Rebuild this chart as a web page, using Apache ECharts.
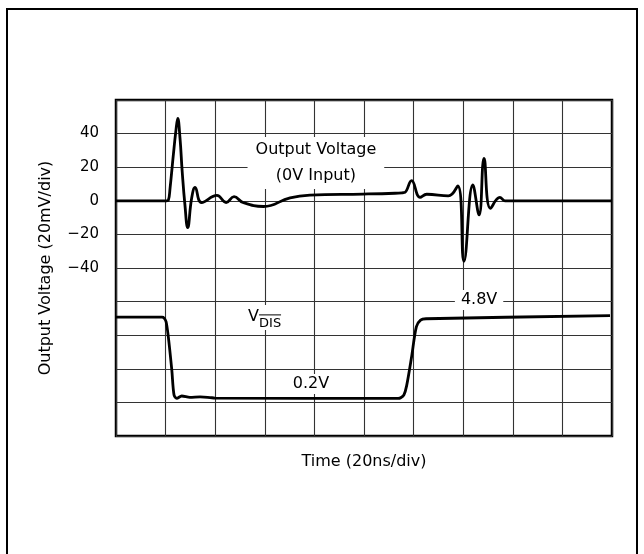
<!DOCTYPE html>
<html><head><meta charset="utf-8">
<script src="https://cdn.jsdelivr.net/npm/echarts@6/dist/echarts.min.js"></script>
<style>html,body{margin:0;padding:0;background:#fff}#c{width:644px;height:554px}</style>
</head><body><div id="c"></div>
<script>
// ---- data (time in ns, values in axis units of 20mV/div) ----
const yTickLabels = [40, 20, 0, -20, -40];
const outTime = [0, 20.4, 21.1, 21.8, 23.1, 24.1, 24.9, 25.8, 26.7, 27.8, 28.9, 30.5, 31.9, 34.5, 40.7, 44.4, 47.6, 51.2, 59.5, 70.2, 78.2, 99.6, 112.5, 115.7, 116.5, 119.2, 122.6, 125.3, 134, 137.8, 140.3, 143.9, 146.4, 148.4, 151.0, 154.8, 156.8, 158, 200];
const outVolt = [0, 0, 0.3, 7.6, 27, 41, 49, 37.4, 17.3, -2.5, -16, 1.5, 8, -1, 3.2, -1, 2.5, -1, -3.4, 1.8, 3.4, 4, 4.5, 4.8, 5, 12, 2.1, 3.9, 2.9, 8.8, -36, 9.4, -8.4, 25.3, -4.5, 2, 0, 0, 0];
const vdisTime = [0, 18.6, 19.4, 20.2, 21.1, 22.5, 23.4, 24.5, 26.5, 29.8, 33.9, 37.9, 39.9, 113.8, 114.8, 116.1, 117.2, 119.2, 121.1, 122.8, 125, 199.2];
const vdisVolt = [-69.3, -69.3, -69.8, -72, -81, -100.7, -115.6, -117.6, -116.2, -117, -116.7, -117.1, -117.4, -117.6, -117.2, -115.5, -110, -92.8, -75, -71, -70.2, -68.4];
const labelOutput = ['Output Voltage', '(0V Input)'];
const labelHigh = '4.8V';
const labelLow = '0.2V';
const FONT = '"DejaVu Sans", "Liberation Sans", sans-serif';

const chart = echarts.init(document.getElementById('c'), null, {renderer: 'canvas'});
const option = {
  animation: false,
  backgroundColor: '#fff',
  grid: {left: 116, top: 100, width: 496, height: 336, show: true, borderColor: '#000', borderWidth: 2.5, backgroundColor: 'transparent'},
  xAxis: {
    type: 'value', min: 0, max: 200, interval: 20,
    axisLine: {show: false}, axisTick: {show: false}, axisLabel: {show: false},
    splitLine: {show: true, lineStyle: {color: '#333', width: 1.1}},
    name: 'Time (20ns/div)', nameLocation: 'middle', nameGap: 18,
    nameTextStyle: {fontFamily: FONT, fontSize: 16, color: '#000'}
  },
  yAxis: {
    type: 'value', min: -140, max: 60, interval: 20,
    axisLine: {show: false}, axisTick: {show: false},
    axisLabel: {
      margin: 17, fontFamily: FONT, fontSize: 15, color: '#000',
      formatter: v => yTickLabels.includes(v) ? String(v).replace('-', '\u2212') : ''
    },
    splitLine: {show: true, lineStyle: {color: '#333', width: 1.1}},
    name: 'Output Voltage (20mV/div)', nameLocation: 'middle', nameGap: 62,
    nameTextStyle: {fontFamily: FONT, fontSize: 16, color: '#000'}
  },
  series: [
    {type: 'line', data: outTime.map((t, i) => [t, outVolt[i]]), showSymbol: false, smooth: 0.45,
     lineStyle: {color: '#000', width: 2.8}, z: 5},
    {type: 'line', data: vdisTime.map((t, i) => [t, vdisVolt[i]]), showSymbol: false, smooth: 0.3,
     lineStyle: {color: '#000', width: 2.8}, z: 5}
  ]
};
chart.setOption(option);

function px(pt) { return chart.convertToPixel({gridIndex: 0}, pt); }
const pOut = px([80.6, 22.5]);
const pHigh = px([146.4, -59]);
const pLow = px([78.6, -109]);
const pDis = px([59.9, -70.3]);

chart.setOption({
  graphic: [
    {type: 'rect', z: 0, silent: true, shape: {x: 7, y: 9, width: 630, height: 620},
     style: {fill: 'none', stroke: '#000', lineWidth: 2}},
    {type: 'text', z: 3, x: pOut[0], y: pOut[1],
     style: {text: labelOutput.join('\n'), font: '16px ' + FONT, fill: '#000', align: 'center', verticalAlign: 'middle',
             lineHeight: 26, backgroundColor: '#fff', padding: [0, 8]}},
    {type: 'text', z: 3, x: pHigh[0], y: pHigh[1],
     style: {text: labelHigh, font: '16px ' + FONT, fill: '#000', align: 'center', verticalAlign: 'middle',
             backgroundColor: '#fff', padding: [2, 6]}},
    {type: 'text', z: 3, x: pLow[0], y: pLow[1],
     style: {text: labelLow, font: '16px ' + FONT, fill: '#000', align: 'center', verticalAlign: 'middle',
             backgroundColor: '#fff', padding: [2, 3]}},
    {type: 'group', z: 3, x: pDis[0], y: pDis[1], children: [
      {type: 'rect', shape: {x: -20, y: -14, width: 39, height: 25}, style: {fill: '#fff'}},
      {type: 'text', x: -16.5, y: -2.5, style: {text: 'V', font: '16px ' + FONT, fill: '#000', align: 'left', verticalAlign: 'middle'}},
      {type: 'text', x: -5.5, y: 5, style: {text: 'DIS', font: '13px ' + FONT, fill: '#000', align: 'left', verticalAlign: 'middle'}},
      {type: 'line', shape: {x1: -5.5, y1: -4, x2: 16.5, y2: -4}, style: {stroke: '#000', lineWidth: 1}}
    ]}
  ]
});
</script></body></html>
